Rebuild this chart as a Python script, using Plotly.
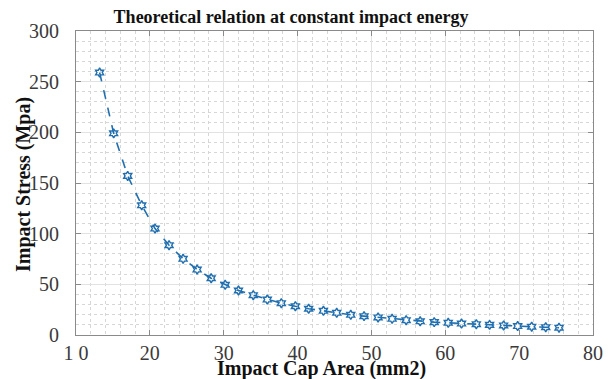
import plotly.graph_objects as go

area = [13.2, 15.1, 17.0, 18.9, 20.7, 22.6, 24.5, 26.4, 28.3, 30.2, 32.0, 34.0,
        35.9, 37.8, 39.7, 41.5, 43.5, 45.3, 47.2, 49.0, 50.9, 52.8, 54.7, 56.6,
        58.5, 60.4, 62.2, 64.2, 66.0, 67.9, 69.8, 71.7, 73.6, 75.4]
stress = [259, 199, 157, 128, 105, 88.6, 75.2, 64.6, 56, 49.5, 43.9, 39.3,
          35, 31.4, 28.4, 25.9, 23.9, 21.9, 19.9, 18.6, 17.3, 16, 14.6, 13.5,
          12.7, 12, 11.3, 10.7, 10, 9.4, 8.8, 8.2, 7.7, 7.2]

x_tickvals = [10, 20, 30, 40, 50, 60, 70, 80]
x_ticktext = ["1 0", "20", "30", "40", "50", "60", "70", "80"]
y_tickvals = [0, 50, 100, 150, 200, 250, 300]
y_ticktext = ["0", "50", "100", "150", "200", "250", "300"]

title_text = "Theoretical relation at constant impact energy"
x_title = "Impact Cap Area (mm2)"
y_title = "Impact Stress (Mpa)"

blue = "#1f6fb0"
serif = "Liberation Serif"

fig = go.Figure()
fig.add_trace(go.Scatter(
    x=area, y=stress, mode="lines+markers",
    line=dict(color=blue, width=1.6, dash="dash"),
    marker=dict(symbol="hexagram-open", size=7, color=blue,
                line=dict(color=blue, width=1.4)),
    showlegend=False,
))

axis_common = dict(
    showline=True, linecolor="#8a8a8a", linewidth=1, mirror="ticks",
    ticks="inside", ticklen=5, tickcolor="#8a8a8a",
    showgrid=True, gridcolor="#e2e2e2", gridwidth=1,
    zeroline=False,
    tickfont=dict(family=serif, size=20, color="#3a3a3a"),
)

fig.update_xaxes(range=[10, 80], tickvals=x_tickvals, ticktext=x_ticktext,
                 minor=dict(dtick=2, tick0=10, showgrid=True, griddash="dot",
                            gridcolor="#d6d6d6", ticks=""),
                 ticklabelstandoff=0,
                 **axis_common)
fig.update_yaxes(range=[0, 300], tickvals=y_tickvals, ticktext=y_ticktext,
                 minor=dict(dtick=10, tick0=0, showgrid=True, griddash="dot",
                            gridcolor="#d6d6d6", ticks=""),
                 ticklabelstandoff=12,
                 **axis_common)

fig.update_layout(
    width=615, height=379,
    margin=dict(l=76, r=12, t=31, b=44),
    paper_bgcolor="white", plot_bgcolor="white",
    title=dict(text="<b>" + title_text + "</b>", x=291/615, xanchor="center",
               y=1 - 17/379, yanchor="middle", xref="container",
               font=dict(family=serif, size=18, color="#111")),
    annotations=[
        dict(text="<b>" + x_title + "</b>", xref="paper", yref="paper",
             x=(326 - 76) / (603 - 76), y=-(368 - 335) / 304, xanchor="center",
             yanchor="middle", showarrow=False,
             font=dict(family=serif, size=20, color="#111")),
        dict(text="<b>" + y_title + "</b>", xref="paper", yref="paper",
             x=-(76 - 22) / (603 - 76), y=(335 - 185) / 304, xanchor="center",
             yanchor="middle", showarrow=False, textangle=-90,
             font=dict(family=serif, size=20, color="#111")),
    ],
)

fig.write_html("out.html")
